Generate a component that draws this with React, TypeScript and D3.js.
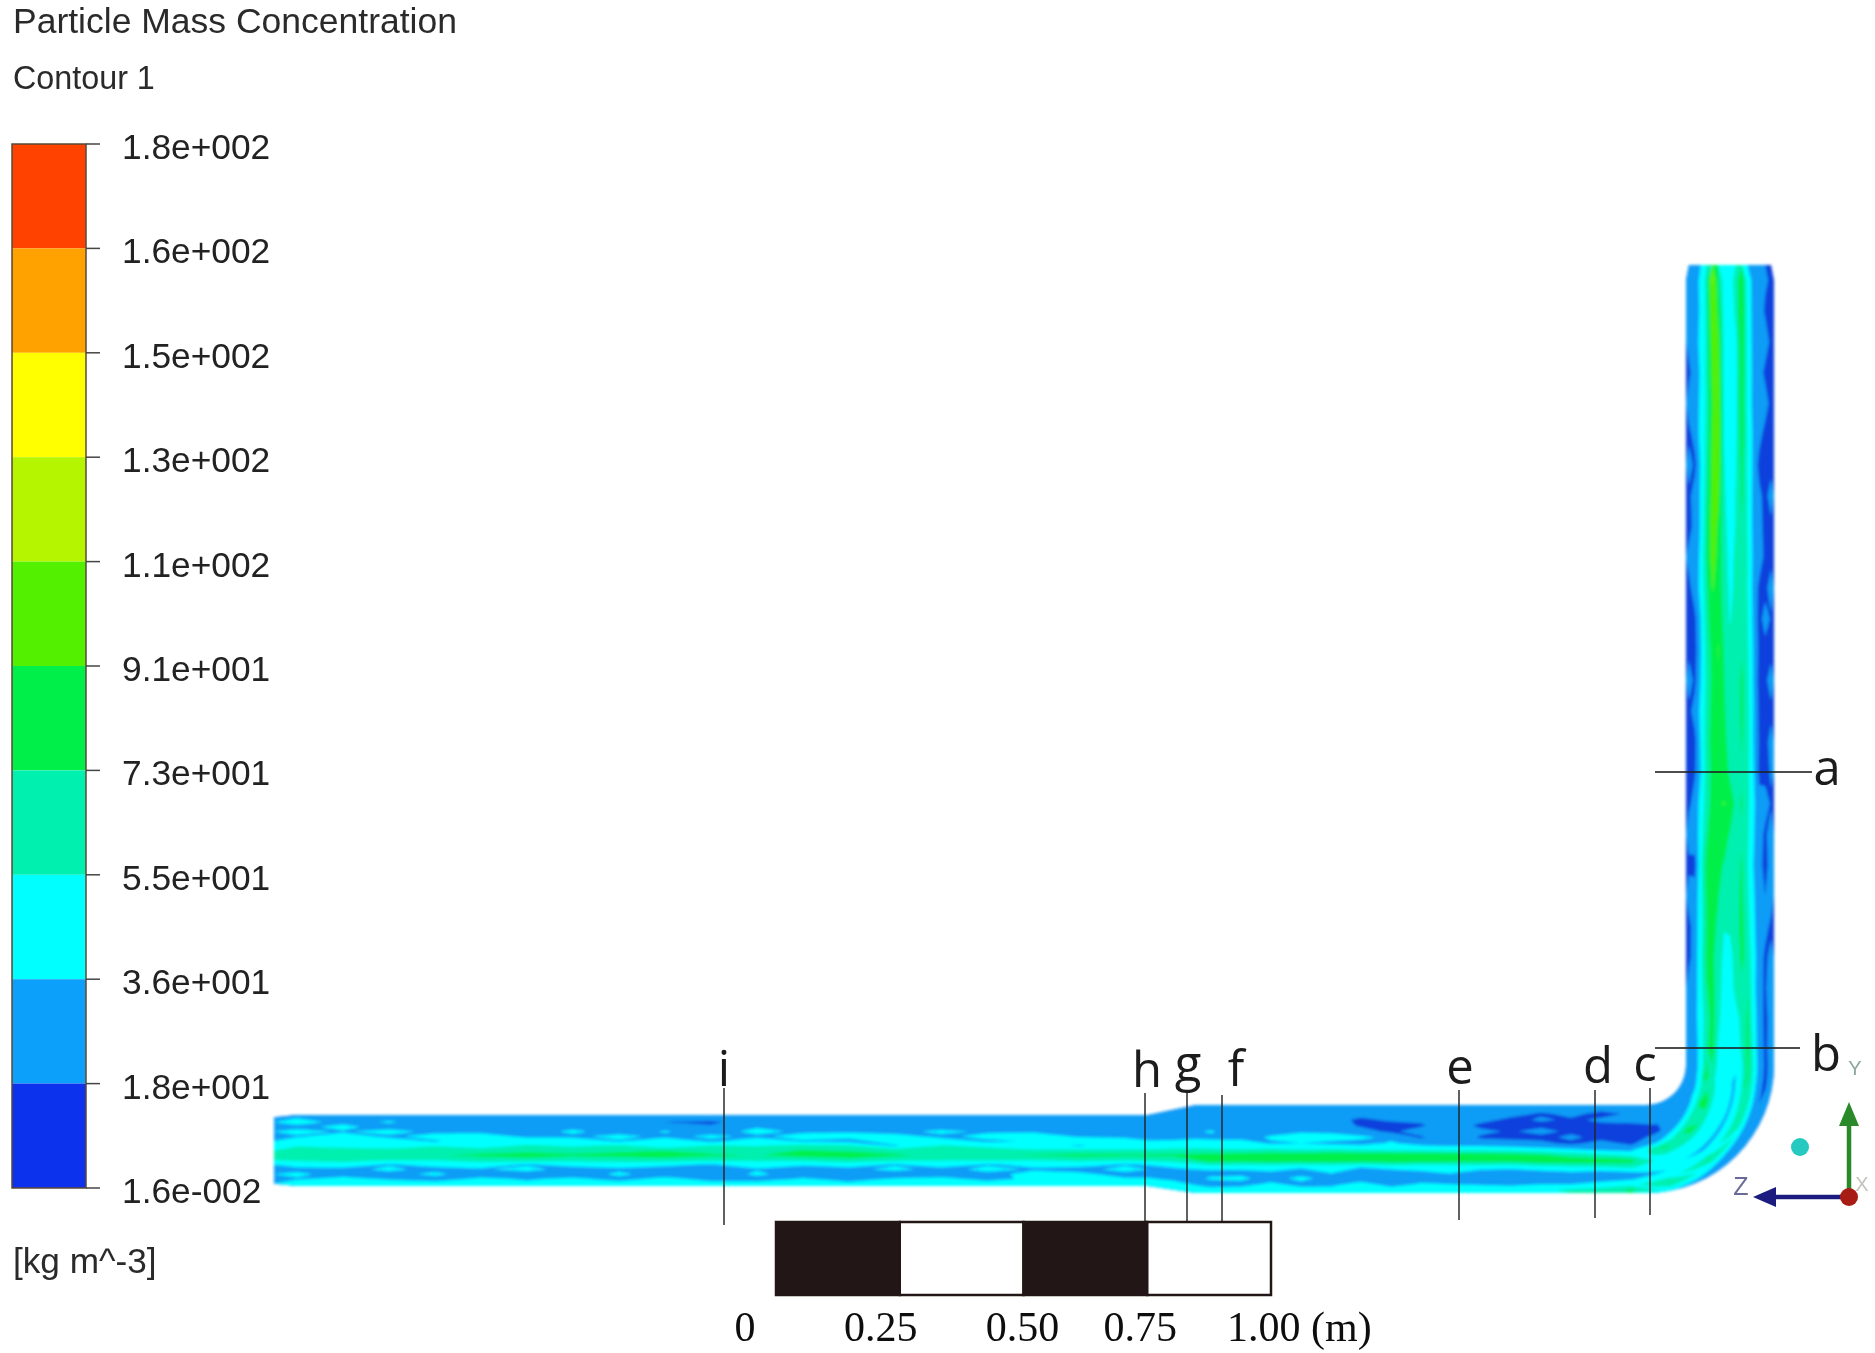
import React from "react";
import * as d3 from "d3";

// Legend
const legendLabels = ["1.8e+002", "1.6e+002", "1.5e+002", "1.3e+002", "1.1e+002", "9.1e+001", "7.3e+001", "5.5e+001", "3.6e+001", "1.8e+001", "1.6e-002"];
const bandColors = ["#ff4200", "#ffa200", "#ffff00", "#b6f500", "#52f000", "#06f04a", "#06f0b0", "#00ffff", "#0ca0fa", "#0a32ee"];
// lower limit of each contour level, kg m^-3, from the bottom of the legend
const levels = [0, 18, 36, 55, 73, 91, 110, 130, 150, 160];
const levelColors = ["#0a40dc", "#0c9cf6", "#00ffff", "#06f0b0", "#06f04a", "#52f000", "#b6f500", "#ffff00", "#ffa200", "#ff4200"];

// Concentration. Each row is one station along the pipe,
// each value one position across it (top/inside of the bend to bottom/outside).
const inletRun = [
  [34, 44, 30, 42, 34, 46, 54, 60, 66, 58, 44, 30, 40, 34, 50],
  [32, 30, 42, 34, 44, 38, 50, 62, 68, 60, 48, 30, 28, 42, 46],
  [30, 38, 26, 44, 32, 46, 48, 60, 70, 56, 34, 40, 30, 34, 46],
  [30, 28, 24, 30, 44, 34, 54, 64, 72, 56, 42, 30, 40, 28, 44],
  [28, 24, 20, 34, 40, 48, 44, 66, 76, 64, 44, 34, 26, 40, 42],
  [28, 26, 22, 26, 34, 42, 58, 68, 80, 66, 34, 42, 26, 34, 40],
  [30, 22, 30, 40, 32, 46, 52, 66, 76, 60, 42, 28, 24, 40, 42],
  [28, 24, 20, 26, 42, 34, 58, 70, 78, 62, 46, 32, 40, 30, 44],
  [26, 18, 24, 38, 30, 50, 44, 72, 82, 64, 40, 28, 26, 42, 46],
  [26, 16, 20, 26, 40, 32, 56, 66, 76, 60, 34, 26, 22, 30, 42],
  [28, 24, 34, 42, 32, 46, 54, 66, 72, 58, 46, 34, 40, 28, 44],
  [30, 22, 24, 32, 44, 34, 60, 74, 80, 60, 38, 28, 26, 38, 42],
  [28, 24, 20, 34, 42, 30, 58, 70, 84, 66, 44, 30, 22, 30, 40],
  [28, 22, 18, 28, 44, 46, 34, 66, 76, 60, 34, 42, 20, 38, 38],
  [28, 26, 24, 42, 30, 48, 56, 62, 68, 56, 48, 28, 26, 42, 44],
  [26, 24, 30, 32, 44, 32, 52, 60, 72, 58, 34, 42, 30, 30, 46],
  [26, 30, 26, 34, 44, 38, 44, 58, 74, 56, 40, 34, 42, 40, 44],
  [26, 24, 22, 28, 34, 46, 34, 60, 78, 60, 42, 30, 40, 46, 46],
  [26, 24, 28, 30, 34, 40, 46, 58, 76, 58, 34, 42, 30, 38, 48],
];
const expansion = [[30, 24, 26, 28, 30, 34, 44, 58, 76, 62, 40, 30, 28, 38, 48]];
const wideRun = [
  [30, 24, 20, 26, 38, 32, 42, 56, 78, 80, 46, 30, 38, 30, 42],
  [28, 20, 26, 32, 24, 30, 44, 54, 80, 78, 44, 30, 40, 30, 44],
  [28, 22, 28, 18, 30, 38, 34, 56, 82, 80, 46, 34, 28, 40, 42],
  [30, 26, 30, 28, 34, 42, 36, 52, 82, 80, 42, 24, 42, 30, 44],
  [28, 24, 22, 26, 32, 44, 32, 54, 84, 82, 44, 38, 28, 32, 42],
  [30, 22, 16, 16, 24, 40, 30, 50, 84, 80, 38, 24, 26, 42, 46],
  [28, 24, 20, 14, 15, 32, 38, 48, 84, 82, 46, 26, 24, 30, 44],
  [30, 26, 22, 16, 26, 16, 30, 46, 84, 82, 42, 34, 28, 38, 46],
  [28, 22, 26, 28, 24, 30, 28, 44, 82, 80, 44, 38, 26, 36, 46],
  [26, 20, 24, 14, 22, 16, 26, 46, 82, 78, 46, 28, 24, 34, 48],
  [28, 24, 14, 12, 16, 14, 24, 44, 80, 80, 44, 26, 22, 32, 48],
  [28, 16, 20, 14, 24, 13, 22, 40, 74, 84, 50, 30, 26, 36, 52],
  [26, 22, 16, 12, 14, 22, 14, 36, 66, 84, 54, 34, 24, 36, 58],
  [24, 14, 20, 16, 13, 12, 24, 30, 58, 84, 56, 30, 28, 42, 62],
  [28, 20, 24, 14, 16, 12, 14, 28, 50, 80, 60, 34, 32, 48, 76],
];
const bend = [
  [28, 24, 20, 18, 16, 24, 40, 78, 58, 46, 38, 36, 48, 74, 50],
  [28, 24, 24, 26, 40, 62, 84, 60, 46, 40, 34, 44, 76, 44, 26],
  [26, 28, 34, 50, 80, 76, 52, 38, 42, 34, 44, 72, 50, 22, 18],
  [26, 30, 42, 80, 66, 48, 42, 40, 34, 46, 76, 56, 28, 16, 20],
];
const riser = [
  [26, 28, 44, 70, 80, 52, 42, 40, 42, 58, 78, 52, 24, 16, 22],
  [28, 30, 46, 64, 80, 60, 44, 40, 46, 62, 76, 46, 26, 14, 24],
  [26, 28, 48, 72, 78, 64, 46, 44, 62, 70, 72, 44, 22, 16, 28],
  [14, 26, 50, 76, 76, 66, 50, 48, 64, 76, 68, 42, 28, 14, 24],
  [12, 28, 46, 74, 78, 70, 56, 58, 66, 78, 62, 40, 26, 24, 14],
  [28, 24, 48, 76, 82, 74, 62, 64, 68, 76, 58, 38, 28, 18, 26],
  [13, 14, 50, 78, 84, 76, 72, 66, 70, 74, 56, 36, 24, 12, 26],
  [28, 26, 44, 70, 86, 82, 80, 72, 70, 72, 58, 38, 26, 14, 28],
  [14, 26, 42, 64, 80, 88, 92, 82, 70, 74, 60, 40, 24, 26, 16],
  [13, 16, 36, 64, 78, 84, 82, 70, 64, 72, 60, 38, 14, 12, 20],
  [12, 14, 38, 66, 80, 86, 78, 66, 66, 74, 62, 36, 16, 12, 24],
  [14, 24, 40, 62, 80, 88, 76, 62, 66, 76, 62, 36, 14, 12, 14],
  [26, 14, 36, 60, 78, 90, 74, 60, 64, 76, 60, 34, 12, 14, 26],
  [14, 12, 34, 62, 80, 92, 72, 58, 64, 72, 58, 34, 14, 12, 12],
  [12, 14, 36, 66, 84, 88, 68, 54, 60, 70, 56, 32, 12, 26, 16],
  [13, 28, 40, 68, 92, 86, 64, 52, 58, 68, 54, 30, 14, 12, 28],
  [24, 26, 40, 72, 98, 86, 62, 50, 58, 70, 56, 32, 26, 14, 12],
  [12, 24, 38, 70, 100, 88, 60, 48, 56, 72, 54, 30, 24, 13, 14],
  [14, 26, 38, 66, 96, 94, 58, 46, 56, 76, 54, 30, 22, 12, 26],
  [26, 14, 38, 62, 94, 100, 56, 44, 54, 78, 52, 32, 12, 14, 12],
  [14, 24, 42, 60, 92, 102, 54, 44, 52, 82, 54, 32, 24, 12, 14],
  [26, 26, 40, 58, 90, 100, 54, 42, 52, 84, 50, 30, 22, 26, 12],
  [14, 28, 38, 60, 94, 96, 52, 44, 50, 86, 52, 30, 26, 14, 18],
  [24, 30, 40, 58, 98, 92, 52, 42, 52, 88, 50, 30, 28, 26, 14],
  [20, 30, 38, 60, 104, 86, 50, 42, 60, 92, 48, 30, 26, 16, 18],
  [24, 32, 38, 62, 112, 74, 48, 44, 64, 88, 46, 30, 28, 20, 16],
];

const scaleTicks = [0, 0.25, 0.5, 0.75, 1];
const scaleLabels = ["0", "0.25", "0.50", "0.75", "1.00 (m)"];
const sectionNames = ["a", "b", "c", "d", "e", "f", "g", "h", "i"];

const field = [...inletRun, ...expansion, ...wideRun, ...bend, ...riser];
const nStations = field.length;
const nAcross = field[0].length;

// station index -> distance along the pipe centreline in px
const stationToDist = d3
  .scaleLinear()
  .domain([0, inletRun.length, inletRun.length + 1, inletRun.length + 1 + wideRun.length, inletRun.length + 1 + wideRun.length + bend.length, nStations])
  .range([0, 874, 922, 1372, 1504, 2304]);
const acrossToT = d3.scaleLinear().domain([0, nAcross]).range([-1, 1]);

// centreline distance + across position -> screen position
function toPipe(dist: number, t: number): [number, number] {
  if (dist <= 874) return [274 + dist, 1150.5 + 35.5 * t];
  if (dist <= 922) {
    const k = (dist - 874) / 48;
    return [274 + dist, 1150.5 - 1.5 * k + (35.5 + 8.5 * k) * t];
  }
  if (dist <= 1372) return [274 + dist, 1149 + 44 * t];
  if (dist <= 1504) {
    const a = ((dist - 1372) / 132) * (Math.PI / 2);
    const r = 84 + 44 * t;
    return [1646 + r * Math.sin(a), 1065 + r * Math.cos(a)];
  }
  return [1730 + 44 * t, 1065 - (dist - 1504)];
}

const line = d3.line();

function ringPath(ring: number[][]) {
  const pts: [number, number][] = [];
  for (let i = 0; i < ring.length - 1; i++) {
    // split each edge so the bend stays round
    for (let k = 0; k < 4; k++) {
      const gx = ring[i][0] + ((ring[i + 1][0] - ring[i][0]) * k) / 4;
      const gy = ring[i][1] + ((ring[i + 1][1] - ring[i][1]) * k) / 4;
      pts.push(toPipe(stationToDist(gx), acrossToT(gy)));
    }
  }
  return line(pts) + "Z";
}

const values: number[] = [];
for (let j = 0; j < nAcross; j++) for (let i = 0; i < nStations; i++) values.push(field[i][j]);
const contourShapes = d3.contours().size([nStations, nAcross]).thresholds(levels)(values);

const barY = d3.scaleLinear().domain([0, 10]).range([144, 1188]);
const scaleX = d3.scaleLinear().domain([0, 1]).range([776, 1271]);

const sans = "'Liberation Sans', Arial, sans-serif";
const letterFont = "'Open Sans', sans-serif";

// leader lines for the section marks, [x1, y1, x2, y2] and label anchor
const leaders: Record<string, { l: number[]; x: number; y: number }> = {
  a: { l: [1655, 772, 1812, 772], x: 1827, y: 785 },
  b: { l: [1655, 1048, 1800, 1048], x: 1826, y: 1071 },
  c: { l: [1650, 1088, 1650, 1215], x: 1645, y: 1081 },
  d: { l: [1595, 1090, 1595, 1218], x: 1598, y: 1083 },
  e: { l: [1459, 1090, 1459, 1220], x: 1460, y: 1084 },
  f: { l: [1222, 1095, 1222, 1222], x: 1236, y: 1086 },
  g: { l: [1187, 1093, 1187, 1222], x: 1188, y: 1081 },
  h: { l: [1145, 1093, 1145, 1222], x: 1147, y: 1087 },
  i: { l: [724, 1088, 724, 1225], x: 724, y: 1086 },
};
const scaleLabelDx = [-31, -19, -1, -7, -44];

export default function App() {
  return (
    <svg width={1875} height={1353} style={{ position: "absolute", left: 0, top: 0, background: "#fff" }}>
      <defs>
        <filter id="soft" filterUnits="userSpaceOnUse" x={0} y={0} width={1875} height={1353}>
          <feGaussianBlur stdDeviation={1.5} />
        </filter>
        <filter id="softText" filterUnits="userSpaceOnUse" x={0} y={0} width={1875} height={1353}>
          <feGaussianBlur stdDeviation={0.55} />
        </filter>
      </defs>

      {/* contour field */}
      <g filter="url(#soft)">
        {contourShapes.map((c, i) => (
          <path
            key={i}
            fill={levelColors[i]}
            fillRule="evenodd"
            d={c.coordinates.map((poly) => poly.map(ringPath).join("")).join("")}
          />
        ))}
      </g>

      <g filter="url(#softText)">
        <text x={13} y={33} fontFamily={sans} fontSize={35.5} fill="#2a2a2a">Particle Mass Concentration</text>
        <text x={13} y={89} fontFamily={sans} fontSize={32.3} fill="#2a2a2a">Contour 1</text>

        {/* legend */}
        {bandColors.map((col, i) => (
          <rect key={i} x={12} y={barY(i)} width={74} height={barY(i + 1) - barY(i)} fill={col} />
        ))}
        <rect x={12} y={144} width={74} height={1044} fill="none" stroke="#5a4a3a" strokeWidth={1.5} />
        {legendLabels.map((lab, i) => (
          <g key={lab}>
            <line x1={86} x2={100} y1={barY(i)} y2={barY(i)} stroke="#444" strokeWidth={1.5} />
            <text x={122} y={barY(i) + 15} fontFamily={sans} fontSize={35.3} fill="#222">{lab}</text>
          </g>
        ))}
        <text x={13} y={1273} fontFamily={sans} fontSize={35.2} fill="#2a2a2a">[kg m^-3]</text>

        {/* section marks */}
        {sectionNames.map((n) => {
          const m = leaders[n];
          return (
            <g key={n}>
              <line x1={m.l[0]} y1={m.l[1]} x2={m.l[2]} y2={m.l[3]} stroke="#222" strokeOpacity={0.8} strokeWidth={1.8} />
              <text x={m.x} y={m.y} textAnchor="middle" fontFamily={letterFont} fontSize={49} fill="#1a1a1a">{n}</text>
            </g>
          );
        })}

        {/* scale bar */}
        {scaleTicks.slice(0, -1).map((t, i) => (
          <rect
            key={t}
            x={scaleX(t)}
            y={1222}
            width={scaleX(scaleTicks[i + 1]) - scaleX(t)}
            height={73}
            fill={i % 2 === 0 ? "#231815" : "#fff"}
            stroke="#231815"
            strokeWidth={2.5}
          />
        ))}
        {scaleLabels.map((lab, i) => (
          <text
            key={lab}
            x={scaleX(scaleTicks[i]) + scaleLabelDx[i]}
            y={1341}
            textAnchor={i === 4 ? "start" : "middle"}
            fontFamily="'Liberation Serif', serif"
            fontSize={42}
            fill="#111"
          >
            {lab}
          </text>
        ))}

        {/* axis triad */}
        <circle cx={1800} cy={1147} r={9} fill="#25c9c0" />
        <line x1={1849} y1={1197} x2={1849} y2={1120} stroke="#2a8a2a" strokeWidth={4.5} />
        <path d="M1849,1102 L1859,1126 L1839,1126 Z" fill="#2a8a2a" />
        <line x1={1849} y1={1197} x2={1770} y2={1197} stroke="#1a1a80" strokeWidth={4.5} />
        <path d="M1753,1197 L1776,1187 L1776,1207 Z" fill="#1a1a80" />
        <circle cx={1849} cy={1197} r={9} fill="#a81c14" />
        <text x={1741} y={1195} textAnchor="middle" fontFamily={sans} fontSize={25} fill="#6a6a98">Z</text>
        <text x={1855} y={1075} textAnchor="middle" fontFamily={sans} fontSize={20} fill="#8aa89c">Y</text>
        <text x={1862} y={1191} textAnchor="middle" fontFamily={sans} fontSize={20} fill="#c4c4bc">X</text>
      </g>
    </svg>
  );
}
